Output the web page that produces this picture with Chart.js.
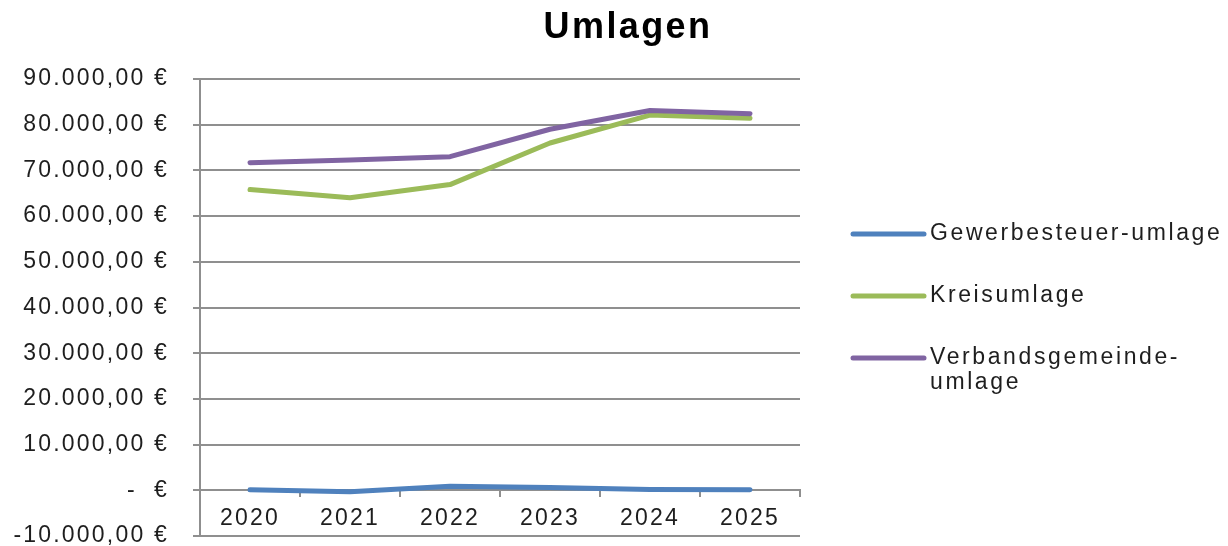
<!DOCTYPE html>
<html><head><meta charset="utf-8">
<script src="https://cdn.jsdelivr.net/npm/chart.js@4"></script>
<style>html,body{margin:0;padding:0;background:#fff}#wrap{width:1228px;height:546px;position:relative}</style>
</head><body><div id="wrap"><canvas id="c" width="1228" height="546"></canvas></div>
<script>
const chartTitle = 'Umlagen';
const years = ['2020', '2021', '2022', '2023', '2024', '2025'];
const gewerbesteuerUmlage = [100, -300, 900, 600, 200, 100];
const kreisumlage = [65800, 64000, 66900, 76000, 82100, 81400];
const verbandsgemeindeUmlage = [71700, 72300, 73000, 79000, 83100, 82400];
const seriesNames = ['Gewerbesteuer-umlage', 'Kreisumlage', ['Verbandsgemeinde-', 'umlage']];
const seriesColors = ['#4F81BD', '#9BBB59', '#8064A2'];
const yTickValues = [-10000, 0, 10000, 20000, 30000, 40000, 50000, 60000, 70000, 80000, 90000];
const yTickLabels = ['-10.000,00 €', '-  €', '10.000,00 €', '20.000,00 €', '30.000,00 €', '40.000,00 €',
                     '50.000,00 €', '60.000,00 €', '70.000,00 €', '80.000,00 €', '90.000,00 €'];

const FONT = '"Liberation Sans", Arial, sans-serif';
const LS = '2.2px';
const GRID = '#8f8f8f';
const TEXT = '#1e1e1e';

const decor = {
  id: 'decor',
  beforeLayout(chart) { chart.ctx.letterSpacing = LS; },
  beforeDraw(chart) { chart.ctx.letterSpacing = LS; },
  afterDraw(chart) {
    const ctx = chart.ctx;
    ctx.save();
    ctx.letterSpacing = '2.4px';
    ctx.font = 'bold 36px ' + FONT;
    ctx.fillStyle = '#000';
    ctx.textAlign = 'center';
    ctx.textBaseline = 'alphabetic';
    ctx.fillText(chartTitle, 628, 38);
    // legend
    ctx.letterSpacing = '2.6px';
    ctx.font = '23px ' + FONT;
    ctx.textAlign = 'left';
    ctx.textBaseline = 'middle';
    const startY = 234, step = 62, lh = 25;
    chart.data.datasets.forEach((ds, i) => {
      const y = startY + i * step;
      ctx.strokeStyle = ds.borderColor;
      ctx.lineWidth = 5;
      ctx.lineCap = 'round';
      ctx.beginPath();
      ctx.moveTo(853, y);
      ctx.lineTo(924, y);
      ctx.stroke();
      ctx.fillStyle = TEXT;
      const lines = Array.isArray(seriesNames[i]) ? seriesNames[i] : [seriesNames[i]];
      lines.forEach((t, k) => ctx.fillText(t, 930, y + k * lh));
    });
    ctx.restore();
  }
};

const mk = (label, data, color, order) => ({
  label: Array.isArray(label) ? label.join('') : label,
  data, borderColor: color, backgroundColor: color, borderWidth: 5,
  pointRadius: 0, pointHoverRadius: 0, tension: 0, fill: false,
  borderCapStyle: 'round', borderJoinStyle: 'round', order
});

new Chart(document.getElementById('c'), {
  type: 'line',
  data: {
    labels: years,
    datasets: [
      mk(seriesNames[0], gewerbesteuerUmlage, seriesColors[0], 2),
      mk(seriesNames[1], kreisumlage, seriesColors[1], 1),
      mk(seriesNames[2], verbandsgemeindeUmlage, seriesColors[2], 0)
    ]
  },
  options: {
    responsive: false,
    animation: false,
    events: [],
    layout: { padding: { top: 79, right: 428, bottom: 0, left: 0 } },
    plugins: { legend: { display: false }, title: { display: false }, tooltip: { enabled: false } },
    scales: {
      x: {
        type: 'category',
        position: { y: 0 },
        offset: true,
        afterFit(scale) { scale.paddingTop = 0; scale.paddingBottom = 0; },
        grid: { display: true, drawOnChartArea: false, drawTicks: true, tickLength: 6, offset: true, color: GRID, lineWidth: 2 },
        border: { display: true, color: GRID, width: 2 },
        ticks: { color: TEXT, font: { family: FONT, size: 23 }, padding: 9, maxRotation: 0, autoSkip: false }
      },
      y: {
        min: -10000, max: 90000,
        afterBuildTicks(scale) { scale.ticks = yTickValues.map(v => ({ value: v })); },
        afterFit(scale) { scale.width = 200; scale.paddingTop = 10; scale.paddingBottom = 10; },
        grid: { color: GRID, lineWidth: 2, tickLength: 7, drawTicks: true },
        border: { display: true, color: GRID, width: 2 },
        ticks: {
          color: TEXT, font: { family: FONT, size: 23, lineHeight: 0.9 }, padding: 24,
          callback(value) { const i = yTickValues.indexOf(value); return i >= 0 ? yTickLabels[i] : ''; }
        }
      }
    }
  },
  plugins: [decor]
});
</script>
</body></html>
